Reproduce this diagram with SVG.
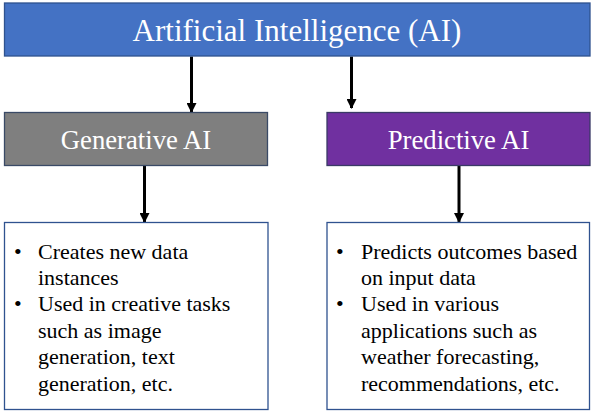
<svg xmlns="http://www.w3.org/2000/svg" width="600" height="414" viewBox="0 0 600 414">
<defs>
<style>
.hdr{stroke-width:1.3}
.ht{fill:#ffffff;text-anchor:middle}
.bt{font-size:22px;fill:#000000}
.conn{stroke:#000000;stroke-width:3;fill:none;marker-end:url(#ah)}
.tb{fill:#ffffff;stroke:#2F528F;stroke-width:1.3}
</style>
<marker id="ah" markerWidth="10" markerHeight="10" refX="9" refY="5" orient="auto" markerUnits="userSpaceOnUse">
<path d="M0,0 L10,5 L0,10 z" fill="#000000"/>
</marker>
</defs>
<rect width="600" height="414" fill="#ffffff"/>
<g id="connectors">
<line class="conn" x1="191.5" y1="56.5" x2="191.5" y2="112"/>
<line class="conn" x1="351.5" y1="56.5" x2="351.5" y2="108"/>
<line class="conn" x1="144.5" y1="166" x2="144.5" y2="222"/>
<line class="conn" x1="459" y1="166" x2="459" y2="222"/>
</g>
<g font-family="Liberation Serif, Times New Roman, DejaVu Serif, serif">
<g id="ai">
<rect class="hdr" x="4.5" y="3" width="585.5" height="53" fill="#4472C4" stroke="#2F528F"/>
<text class="ht" x="297" y="41" font-size="31">Artificial Intelligence (AI)</text>
</g>
<g id="generative">
<rect class="hdr" x="4.5" y="112.5" width="263" height="53" fill="#7F7F7F" stroke="#3A4A66"/>
<text class="ht" x="136" y="148.5" font-size="26.7">Generative AI</text>
</g>
<g id="predictive">
<rect class="hdr" x="327" y="112.5" width="263" height="53" fill="#7030A0" stroke="#3A3A66"/>
<text class="ht" x="458.5" y="148.5" font-size="26.7">Predictive AI</text>
</g>
<g id="gen-details">
<rect class="tb" x="4.5" y="222.5" width="263.5" height="187"/>
<text class="bt"><tspan x="14" y="258.5">•</tspan><tspan x="38" y="258.5">Creates new data</tspan><tspan x="38" y="284.8">instances</tspan><tspan x="14" y="311.2">•</tspan><tspan x="38" y="311.2">Used in creative tasks</tspan><tspan x="38" y="337.8">such as image</tspan><tspan x="38" y="364.3">generation, text</tspan><tspan x="38" y="391">generation, etc.</tspan></text>
</g>
<g id="pred-details">
<rect class="tb" x="327" y="222.5" width="262.5" height="187"/>
<text class="bt"><tspan x="336" y="258.5">•</tspan><tspan x="361" y="258.5">Predicts outcomes based</tspan><tspan x="361" y="284.8">on input data</tspan><tspan x="336" y="311.2">•</tspan><tspan x="361" y="311.2">Used in various</tspan><tspan x="361" y="337.8">applications such as</tspan><tspan x="361" y="364.3">weather forecasting,</tspan><tspan x="361" y="391">recommendations, etc.</tspan></text>
</g>
</g>
</svg>
